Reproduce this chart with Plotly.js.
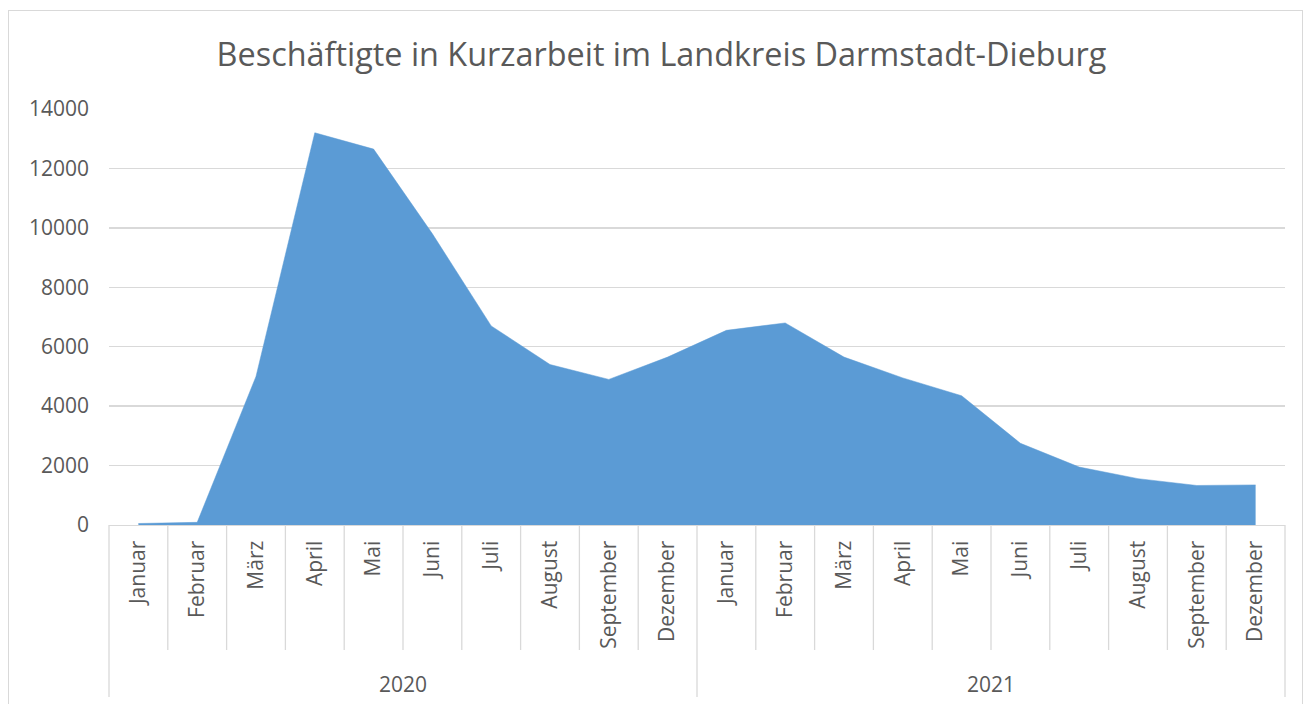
<!DOCTYPE html>
<html>
<head>
<meta charset="utf-8">
<script src="https://cdn.plot.ly/plotly-3.0.1.min.js"></script>
<style>
  html, body { margin: 0; padding: 0; background: #ffffff; }
  #frame { position: absolute; left: 8px; top: 10px; width: 1295px; height: 700px; border: 1px solid #d9d9d9; box-sizing: border-box; }
  #chart { position: absolute; left: 0; top: 0; width: 1306px; height: 704px; }
</style>
</head>
<body>
<div id="frame"></div>
<div id="chart"></div>
<script>
// Data
const years = ['2020', '2021'];
const months = ['Januar', 'Februar', 'März', 'April', 'Mai', 'Juni', 'Juli', 'August', 'September', 'Dezember',
                'Januar', 'Februar', 'März', 'April', 'Mai', 'Juni', 'Juli', 'August', 'September', 'Dezember'];
const monthYear = ['2020', '2020', '2020', '2020', '2020', '2020', '2020', '2020', '2020', '2020',
                   '2021', '2021', '2021', '2021', '2021', '2021', '2021', '2021', '2021', '2021'];
const kurzarbeit = [50, 90, 5000, 13200, 12650, 9800, 6700, 5400, 4900, 5650,
                    6550, 6800, 5650, 4950, 4350, 2750, 1950, 1560, 1330, 1350];
const yTicks = [0, 2000, 4000, 6000, 8000, 10000, 12000, 14000];
const titleText = 'Beschäftigte in Kurzarbeit im Landkreis Darmstadt-Dieburg';

const FONT = 'Open Sans, Noto Sans, sans-serif';
const GREY = '#595959';
const LINE = '#d9d9d9';

const idx = months.map((m, i) => i);

// category boundaries (between adjacent categories)
const shapes = [];
for (let i = 0; i < months.length - 1; i++) {
  const isYearBreak = monthYear[i] !== monthYear[i + 1];
  shapes.push({
    type: 'line', xref: 'x', yref: 'paper', ysizemode: 'pixel', yanchor: 0,
    x0: i + 0.5, x1: i + 0.5, y0: 0, y1: isYearBreak ? -172 : -125,
    line: { color: LINE, width: 1.3 }
  });
}
// outer ends of the axis
[0, 1].forEach(d => shapes.push({
  type: 'line', xref: 'x domain', yref: 'paper', ysizemode: 'pixel', yanchor: 0,
  x0: d, x1: d, y0: 0, y1: -172,
  line: { color: LINE, width: 1.3 }
}));

// year labels, centered in their groups
const annotations = years.map(y => {
  const members = idx.filter(i => monthYear[i] === y);
  const center = (members[0] + members[members.length - 1]) / 2;
  return {
    text: y, xref: 'x', yref: 'paper', x: center, y: 0, yshift: -159,
    showarrow: false, xanchor: 'center', yanchor: 'middle',
    font: { family: FONT, size: 21, color: GREY }
  };
});

const trace = {
  x: idx,
  y: kurzarbeit,
  type: 'scatter',
  mode: 'lines',
  fill: 'tozeroy',
  fillcolor: '#5b9bd5',
  line: { color: '#5b9bd5', width: 0.5 },
  hoverinfo: 'skip'
};

const layout = {
  width: 1306, height: 704,
  margin: { l: 109, r: 21, t: 109, b: 179 },
  paper_bgcolor: 'rgba(0,0,0,0)',
  plot_bgcolor: 'rgba(0,0,0,0)',
  showlegend: false,
  title: {
    text: titleText,
    font: { family: FONT, size: 32.4, color: GREY },
    xref: 'container', yref: 'container',
    x: 0.5065, y: 0.922, xanchor: 'center', yanchor: 'middle'
  },
  xaxis: {
    type: 'linear',
    range: [-0.5, months.length - 0.5],
    tickmode: 'array', tickvals: idx, ticktext: months,
    tickangle: -90,
    ticks: '',
    showgrid: false, zeroline: false,
    showline: true, linecolor: LINE, linewidth: 1.3,
    tickfont: { family: FONT, size: 21, color: GREY },
    ticklabelstandoff: 6,
    fixedrange: true
  },
  yaxis: {
    range: [0, 14000],
    tickmode: 'array', tickvals: yTicks, ticktext: yTicks.map(String),
    ticks: '',
    showgrid: true, gridcolor: LINE, gridwidth: 1.3,
    zeroline: false, showline: false,
    tickfont: { family: FONT, size: 21, color: GREY },
    ticklabelstandoff: 19,
    fixedrange: true
  },
  shapes: shapes,
  annotations: annotations
};

Plotly.newPlot('chart', [trace], layout, { staticPlot: true, displayModeBar: false });
</script>
</body>
</html>
